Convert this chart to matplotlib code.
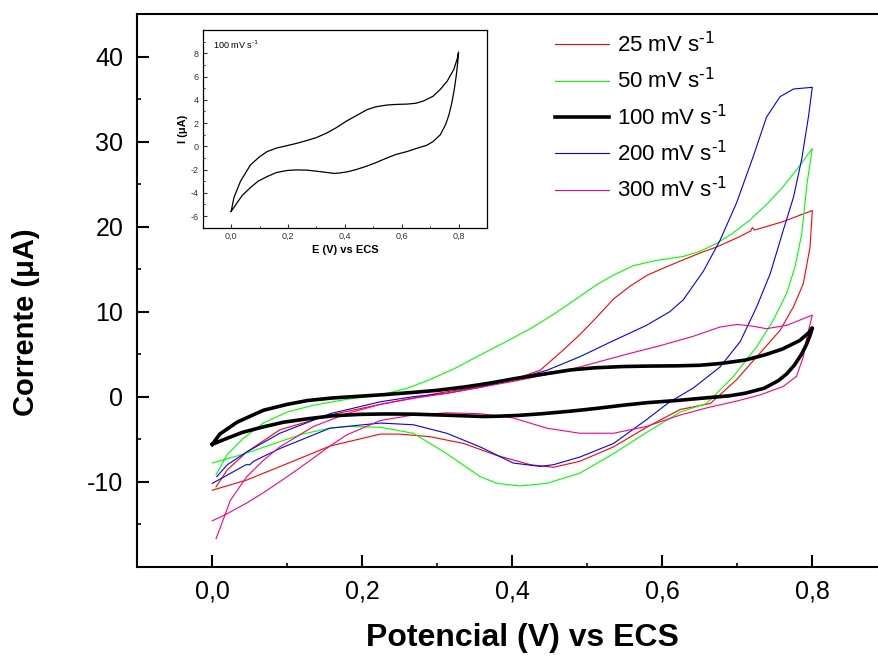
import matplotlib
matplotlib.use("Agg")
import matplotlib.pyplot as plt
from matplotlib.ticker import MultipleLocator, FuncFormatter

plt.rcParams['font.family'] = ['Liberation Sans', 'DejaVu Sans']
plt.rcParams['mathtext.default'] = 'regular'
plt.rcParams['axes.unicode_minus'] = False

# potential (V) and current (uA) along each loop: anodic branch then cathodic branch
e_25 = [0.005, 0.02, 0.046, 0.09, 0.157, 0.224, 0.3, 0.35, 0.40, 0.437, 0.468, 0.49, 0.513, 0.535,
        0.557, 0.58, 0.606, 0.65, 0.672, 0.70, 0.718, 0.72, 0.723, 0.761, 0.8,
        0.8, 0.797, 0.788, 0.775, 0.757, 0.730, 0.699, 0.664, 0.624, 0.579, 0.535, 0.49, 0.455,
        0.424, 0.379, 0.335, 0.29, 0.25, 0.224, 0.157, 0.113, 0.046, 0.0]
i_25 = [-10.6, -8.6, -6.5, -3.9, -2.15, -0.9, 0.4, 1.1, 2.0, 3.1, 5.5, 7.3, 9.4, 11.5,
        13.0, 14.3, 15.3, 16.9, 17.6, 18.7, 19.5, 19.9, 19.6, 20.6, 21.9,
        21.9, 17.6, 13.3, 10.6, 7.8, 5.1, 2.0, -0.8, -1.5, -3.6, -5.9, -7.6, -8.3,
        -8.0, -6.9, -5.5, -4.7, -4.4, -4.4, -5.8, -7.4, -9.8, -11.0]

e_50 = [0.005, 0.02, 0.04, 0.068, 0.1, 0.135, 0.18, 0.224, 0.26, 0.29, 0.325, 0.357, 0.39, 0.424,
        0.457, 0.49, 0.513, 0.535, 0.561, 0.59, 0.628, 0.65, 0.672, 0.695, 0.717, 0.74, 0.761,
        0.78, 0.8,
        0.8, 0.793, 0.786, 0.777, 0.766, 0.748, 0.726, 0.695, 0.659, 0.624, 0.579, 0.535, 0.49,
        0.446, 0.41, 0.38, 0.357, 0.3125, 0.268, 0.224, 0.18, 0.157, 0.12, 0.09, 0.04, 0.0]
i_50 = [-9.2, -6.8, -5.0, -3.1, -1.8, -1.0, -0.3, 0.2, 1.0, 2.0, 3.4, 4.9, 6.4, 8.0,
        9.8, 11.8, 13.2, 14.3, 15.4, 16.0, 16.5, 17.1, 18.0, 19.3, 20.8, 22.7, 24.7,
        26.8, 29.2,
        29.2, 25.1, 19.2, 15.3, 12.2, 9.0, 5.9, 2.4, -0.8, -1.8, -4.2, -6.7, -9.0,
        -10.2, -10.5, -10.2, -9.4, -6.7, -4.3, -3.6, -3.5, -3.7, -4.4, -5.3, -6.8, -7.8]

e_100 = [0.0, 0.01, 0.033, 0.068, 0.1, 0.127, 0.16, 0.197, 0.23, 0.267, 0.3, 0.337, 0.37, 0.408,
         0.445, 0.478, 0.51, 0.548, 0.58, 0.619, 0.65, 0.677, 0.71, 0.736, 0.76, 0.783, 0.795, 0.8,
         0.8, 0.797, 0.792, 0.785, 0.776, 0.766, 0.755, 0.736, 0.71, 0.689, 0.65, 0.619, 0.58,
         0.548, 0.51, 0.478, 0.44, 0.408, 0.38, 0.361, 0.32, 0.267, 0.23, 0.197, 0.16, 0.127,
         0.095, 0.068, 0.04, 0.021, 0.0]
i_100 = [-5.6, -4.4, -3.0, -1.6, -0.9, -0.45, -0.15, 0.06, 0.25, 0.5, 0.75, 1.15, 1.6, 2.2,
         2.7, 3.15, 3.4, 3.55, 3.6, 3.63, 3.7, 3.9, 4.3, 4.9, 5.6, 6.6, 7.5, 8.1,
         8.1, 7.2, 6.1, 4.9, 3.7, 2.7, 1.9, 1.0, 0.4, 0.1, -0.2, -0.45, -0.7,
         -1.0, -1.4, -1.7, -2.0, -2.2, -2.3, -2.33, -2.2, -2.05, -2.03, -2.08, -2.25, -2.6,
         -3.0, -3.55, -4.2, -4.85, -5.6]

e_200 = [0.006, 0.02, 0.046, 0.09, 0.157, 0.224, 0.268, 0.3125, 0.357, 0.401, 0.446, 0.49, 0.535,
         0.579, 0.61, 0.628, 0.655, 0.677, 0.699, 0.721, 0.739, 0.757, 0.775, 0.8,
         0.8, 0.795, 0.786, 0.775, 0.761, 0.744, 0.726, 0.704, 0.677, 0.641, 0.61, 0.579, 0.535,
         0.49, 0.455, 0.437, 0.401, 0.357, 0.3125, 0.268, 0.224, 0.157, 0.09, 0.055, 0.05, 0.045, 0.0]
i_200 = [-9.4, -8.0, -6.5, -4.3, -2.0, -0.6, 0.0, 0.4, 1.1, 2.0, 3.1, 4.7, 6.6,
         8.4, 10.0, 11.4, 14.8, 18.4, 22.8, 28.2, 32.9, 35.3, 36.2, 36.4,
         36.4, 33.0, 28.0, 23.5, 19.5, 14.5, 10.6, 6.5, 3.5, 1.0, -0.6, -2.7, -5.5,
         -7.1, -8.0, -8.2, -7.8, -5.9, -4.3, -3.3, -3.1, -3.7, -6.1, -7.6, -8.0, -8.0, -10.2]

e_300 = [0.005, 0.017, 0.024, 0.046, 0.068, 0.09, 0.135, 0.179, 0.224, 0.268, 0.3125, 0.357, 0.401,
         0.446, 0.49, 0.557, 0.597, 0.641, 0.677, 0.70, 0.72, 0.739, 0.766, 0.8,
         0.8, 0.793, 0.788, 0.779, 0.761, 0.730, 0.70, 0.66, 0.624, 0.579, 0.535, 0.49, 0.446,
         0.401, 0.357, 0.3125, 0.268, 0.224, 0.179, 0.157, 0.135, 0.113, 0.09, 0.068, 0.046, 0.017, 0.0]
i_300 = [-16.7, -13.9, -12.2, -9.4, -7.5, -5.9, -3.5, -2.0, -0.9, -0.2, 0.4, 1.1, 1.8,
         2.6, 3.5, 5.1, 6.0, 7.1, 8.2, 8.5, 8.3, 8.0, 8.4, 9.6,
         9.6, 7.1, 4.7, 2.4, 1.2, 0.2, -0.5, -1.3, -2.15, -3.5, -4.3, -4.3, -3.7,
         -2.5, -2.0, -1.9, -2.15, -2.8, -4.5, -5.8, -7.2, -8.6, -10.0, -11.3, -12.5, -13.9, -14.6]

labels = ['25 mV s$^{\\text{-1}}$', '50 mV s$^{\\text{-1}}$', '100 mV s$^{\\text{-1}}$',
          '200 mV s$^{\\text{-1}}$', '300 mV s$^{\\text{-1}}$']
colors = ['#FF0000', '#00FF00', '#000000', '#0000FF', '#FF0080']
widths = [0.8, 0.8, 2.6, 0.8, 0.8]

fig = plt.figure(figsize=(8.79, 6.59), dpi=100)
ax = fig.add_axes([137.3 / 879, 1 - 566.7 / 659, 750 / 879, 552.5 / 659])

curves = [(e_25, i_25), (e_50, i_50), (e_100, i_100), (e_200, i_200), (e_300, i_300)]
for (e, i), lab, c, w in zip(curves, labels, colors, widths):
    ax.plot(e, i, color=c, lw=w, label=lab, zorder=3 if w > 1 else 2)

ax.set_xlim(-0.1, 0.9)
ax.set_ylim(-20, 45)
ax.xaxis.set_minor_locator(MultipleLocator(0.1))
ax.yaxis.set_minor_locator(MultipleLocator(5))
ax.set_xticks([0.0, 0.2, 0.4, 0.6, 0.8])
ax.set_yticks([-10, 0, 10, 20, 30, 40])
comma = FuncFormatter(lambda v, p: ('%.1f' % v).replace('.', ','))
ax.xaxis.set_major_formatter(comma)
ax.tick_params(which='major', direction='in', length=8.4, width=1.5, labelsize=18, pad=9)
ax.tick_params(which='minor', direction='in', length=3, width=1.2)
ax.tick_params(axis='y', which='major', pad=10)
for s in ax.spines.values():
    s.set_linewidth(1.5)

fig.text(522 / 879, 1 - 638 / 659, 'Potencial (V) vs ECS', fontsize=23, fontweight='bold',
         ha='center', va='center')
fig.text(26 / 879, 1 - 322 / 659, 'Corrente (\u03bcA)', fontsize=21, fontweight='bold',
         ha='center', va='center', rotation=90)

fig.legend(loc='upper left', bbox_to_anchor=(555 / 879, 1 - 32 / 659), frameon=False,
           fontsize=16, borderpad=0, borderaxespad=0, handlelength=2.45, handletextpad=0.35,
           labelspacing=0.5)

# inset: 100 mV/s alone
ins = fig.add_axes([202.7 / 879, 1 - 227.7 / 659, 284.3 / 879, 197.7 / 659])
ins.plot(e_100, i_100, color='black', lw=0.9)
ins.set_xlim(-0.1, 0.9)
ins.set_ylim(-7, 10)
ins.set_xticks([0.0, 0.2, 0.4, 0.6, 0.8])
ins.xaxis.set_minor_locator(MultipleLocator(0.1))
ins.set_yticks([-6, -4, -2, 0, 2, 4, 6, 8])
ins.yaxis.set_minor_locator(MultipleLocator(1))
ins.xaxis.set_major_formatter(comma)
ins.tick_params(which='major', direction='in', length=3, width=0.8, labelsize=6.5, pad=3,
                colors='#333333')
ins.tick_params(which='minor', direction='in', length=1.5, width=0.6)
for s in ins.spines.values():
    s.set_linewidth(0.9)
ins.set_xlabel('E (V) vs ECS', fontsize=8, fontweight='bold', labelpad=3)
ins.set_ylabel('I (\u03bcA)', fontsize=8, fontweight='bold', labelpad=2)
ins.text(0.035, 0.925, '100 mV s$^{\\text{-1}}$', transform=ins.transAxes, fontsize=6.5,
         ha='left', va='center')

fig.savefig('out.png', dpi=100)
